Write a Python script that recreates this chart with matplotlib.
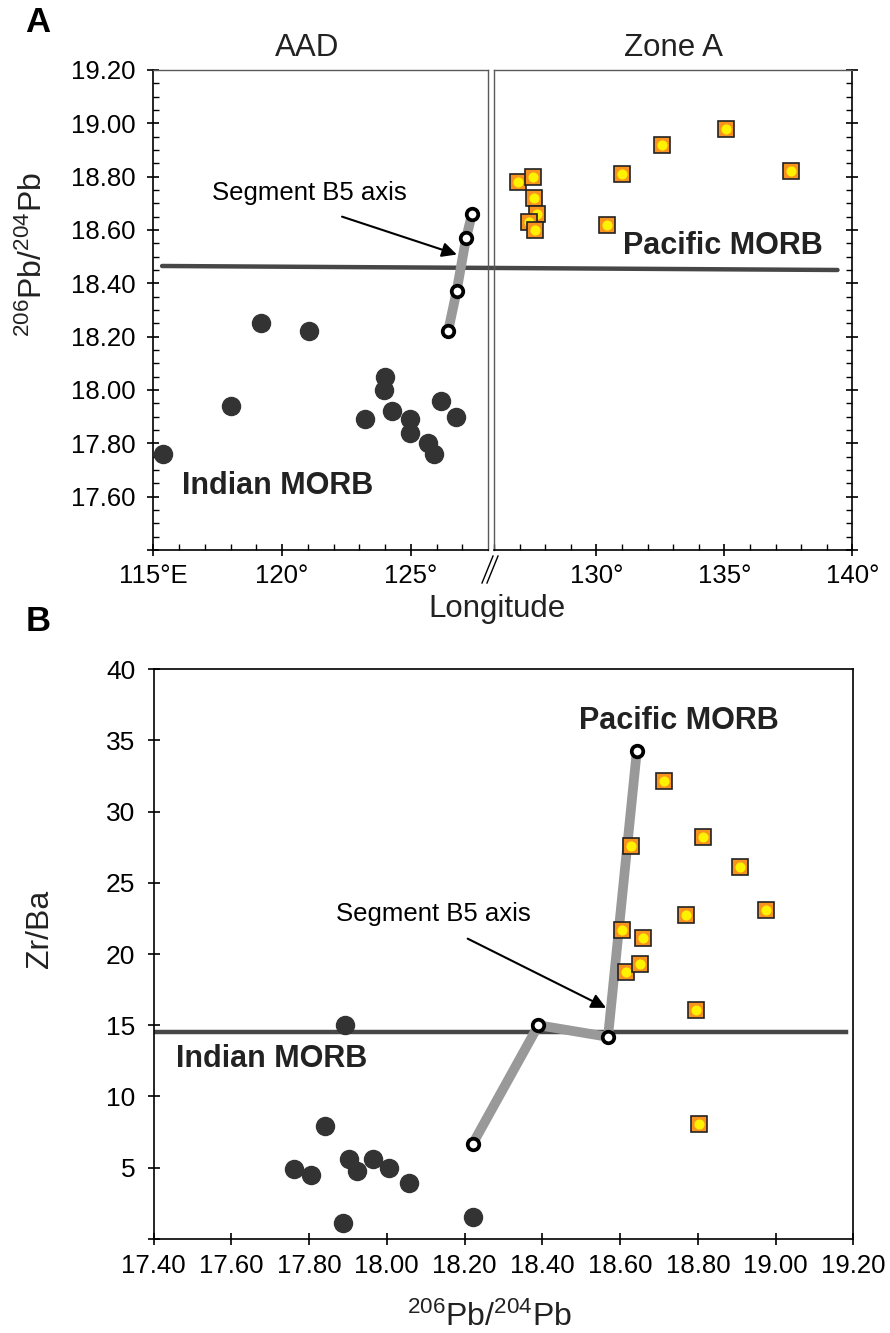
import matplotlib
matplotlib.use('Agg')
import matplotlib.pyplot as plt
from matplotlib.patches import ConnectionPatch
from matplotlib.lines import Line2D
import numpy as np

plt.rcParams['font.family'] = ['Liberation Sans', 'DejaVu Sans']
plt.rcParams['mathtext.fontset'] = 'custom'
plt.rcParams['mathtext.rm'] = 'Liberation Sans'
plt.rcParams['mathtext.it'] = 'Liberation Sans:italic'
plt.rcParams['mathtext.bf'] = 'Liberation Sans:bold'

# ---- Panel A data (longitude vs 206Pb/204Pb)
aad_lon = [115.39, 118.03, 119.19, 121.03, 123.22, 124.00, 123.96, 124.28,
           124.96, 124.96, 125.67, 125.90, 126.16, 126.74]
aad_pb = [17.76, 17.94, 18.25, 18.22, 17.89, 18.05, 18.00, 17.92,
          17.89, 17.84, 17.80, 17.76, 17.96, 17.90]

b5_lon = [126.45, 126.78, 127.15, 127.38]
b5_pb = [18.22, 18.37, 18.57, 18.66]

zone_lon = [126.93, 127.52, 127.55, 127.66, 127.38, 127.60, 130.42, 131.01,
            132.55, 135.08, 137.60]
zone_pb = [18.78, 18.80, 18.72, 18.66, 18.63, 18.60, 18.62, 18.81,
           18.92, 18.98, 18.82]

# Indian/Pacific boundary line in panel A
bound_lon = [115.34, 139.42]
bound_pb = [18.465, 18.45]

# ---- Panel B data (206Pb/204Pb vs Zr/Ba)
ind_pb = [17.893, 17.842, 17.762, 17.804, 17.902, 17.924, 17.964, 18.006,
          18.056, 17.887, 18.223]
ind_zrba = [15.0, 7.89, 4.93, 4.49, 5.61, 4.77, 5.59, 5.00, 3.94, 1.08, 1.51]

b5b_pb = [18.221, 18.390, 18.569, 18.643]
b5b_zrba = [6.67, 15.0, 14.18, 34.23]

pac_pb = [18.714, 18.629, 18.814, 18.909, 18.769, 18.975, 18.604, 18.660,
          18.614, 18.652, 18.795, 18.803]
pac_zrba = [32.18, 27.6, 28.2, 26.1, 22.77, 23.1, 21.69, 21.15,
            18.73, 19.27, 16.04, 8.08]

bound_b_pb = [17.405, 19.18]
bound_b_zrba = [14.5, 14.5]

# styles
DARK = '#333333'
LINE = '#474747'
PATH = '#999999'
ORANGE = '#F7931E'
YELLOW = '#FFF200'
FRAME = '#5a5a5a'


def indian(ax, x, y):
    ax.plot(x, y, 'o', ms=13, color=DARK, mec=DARK, zorder=3)


def pacific(ax, x, y):
    # one point at a time so overlapping squares stack properly
    for xi, yi in zip(x, y):
        ax.plot(xi, yi, 's', ms=11.2, mfc=ORANGE, mec='#222222', mew=1.2, zorder=5)
        ax.plot(xi, yi, 'o', ms=7.3, mfc=YELLOW, mec='none', zorder=5)


def segment(ax, x, y):
    ax.plot(x, y, '-', color=PATH, lw=7, solid_capstyle='butt', zorder=4)
    ax.plot(x, y, 'o', ms=8.3, mfc='white', mec='black', mew=2.7, zorder=6)


def style_ticks(ax, size):
    ax.tick_params(which='major', direction='inout', length=8, width=1.2,
                   labelsize=size, color='black')
    ax.tick_params(which='minor', direction='in', length=4, width=1.0,
                   color='black')


fig = plt.figure(figsize=(8.9, 13.33), dpi=100)
fig.patch.set_facecolor('white')

ax1 = fig.add_axes([0.1723, 0.5874, 0.3760, 0.3601])
ax2 = fig.add_axes([0.5551, 0.5874, 0.4026, 0.3601])
ax3 = fig.add_axes([0.1725, 0.0707, 0.7863, 0.4272])
for a in (ax1, ax2, ax3):
    a.set_facecolor('none')

# ---------------- Panel A ----------------
ax1.set_xlim(115, 128)
ax2.set_xlim(126, 140)
for a in (ax1, ax2):
    a.set_ylim(17.4, 19.2)

indian(ax1, aad_lon, aad_pb)
segment(ax1, b5_lon, b5_pb)
pacific(ax2, zone_lon, zone_pb)

con = ConnectionPatch(xyA=(bound_lon[0], bound_pb[0]), coordsA=ax1.transData,
                      xyB=(bound_lon[1], bound_pb[1]), coordsB=ax2.transData,
                      color=LINE, lw=3.2, zorder=-1)
fig.add_artist(con)

yt = np.arange(17.4, 19.21, 0.2)
ax1.set_yticks(yt)
ax1.set_yticklabels([''] + ['%.2f' % v for v in yt[1:]])
ax1.set_yticks(np.arange(17.4, 19.21, 0.05), minor=True)
ax1.set_xticks([115, 120, 125])
ax1.set_xticklabels(['115°E', '120°', '125°'])
ax1.set_xticks(np.arange(115, 128), minor=True)
style_ticks(ax1, 18.5)
ax1.tick_params(axis='y', pad=9)
ax1.tick_params(axis='x', pad=6)

ax2.set_yticks(yt)
ax2.set_yticks(np.arange(17.4, 19.21, 0.05), minor=True)
ax2.yaxis.tick_right()
ax2.tick_params(axis='y', which='both', labelright=False)
ax2.set_xticks([130, 135, 140])
ax2.set_xticklabels(['130°', '135°', '140°'])
ax2.set_xticks(np.arange(126, 141), minor=True)
style_ticks(ax2, 18.5)
ax2.tick_params(axis='x', pad=6)

for s in ('top', 'right'):
    ax1.spines[s].set_color(FRAME)
    ax1.spines[s].set_linewidth(1.0)
for s in ('top', 'left'):
    ax2.spines[s].set_color(FRAME)
    ax2.spines[s].set_linewidth(1.0)
ax1.spines['left'].set_linewidth(1.2)
ax1.spines['bottom'].set_linewidth(1.2)
ax2.spines['right'].set_linewidth(1.2)
ax2.spines['bottom'].set_linewidth(1.2)

ax1.text(116.1, 17.64, 'Indian MORB', fontsize=22, fontweight='bold',
         color='#222222', ha='left', va='center')
ax2.text(131.05, 18.54, 'Pacific MORB', fontsize=22, fontweight='bold',
         color='#222222', ha='left', va='center')
ax1.text(121.06, 18.74, 'Segment B5 axis', fontsize=18.5, ha='center', va='center')
ax1.annotate('', xy=(126.79, 18.508), xytext=(122.33, 18.65),
             arrowprops=dict(arrowstyle='-|>', color='black', lw=1.5,
                             mutation_scale=22, shrinkA=0, shrinkB=0))

fig.text(306.7 / 890, 1 - 48 / 1333, 'AAD', fontsize=22.5, ha='center', va='center',
         color='#222222')
fig.text(673 / 890, 1 - 48 / 1333, 'Zone A', fontsize=22.5, ha='center', va='center',
         color='#222222')
fig.text(497 / 890, 1 - 617 / 1333, 'Longitude', fontsize=22.5, ha='center',
         va='baseline', color='#222222')
fig.text(33 / 890, 1 - 255 / 1333, r'$^{206}\mathrm{Pb/}^{204}\mathrm{Pb}$',
         fontsize=23, rotation=90, ha='center', va='center', color='#222222')
fig.text(38 / 890, 1 - 22 / 1333, 'A', fontsize=25, fontweight='bold',
         ha='center', va='center')
fig.text(38 / 890, 1 - 622 / 1333, 'B', fontsize=25, fontweight='bold',
         ha='center', va='center')

# axis break marks
for dx in (0, 5):
    fig.add_artist(Line2D([(482 + dx) / 890, (493 + dx) / 890],
                          [1 - 583 / 1333, 1 - 556 / 1333],
                          transform=fig.transFigure, color='black', lw=1.0))

# ---------------- Panel B ----------------
ax3.set_xlim(17.4, 19.2)
ax3.set_ylim(0, 40)

ax3.plot(bound_b_pb, bound_b_zrba, '-', color=LINE, lw=3.2, zorder=2)
indian(ax3, ind_pb, ind_zrba)
segment(ax3, b5b_pb, b5b_zrba)
pacific(ax3, pac_pb, pac_zrba)

xt = np.arange(17.4, 19.21, 0.2)
ax3.set_xticks(xt)
ax3.set_xticklabels(['%.2f' % v for v in xt])
ax3.set_yticks(np.arange(0, 41, 5))
ax3.set_yticklabels([''] + [str(v) for v in range(5, 41, 5)])
style_ticks(ax3, 18.5)
ax3.tick_params(axis='y', labelsize=19, pad=9)
ax3.tick_params(axis='x', pad=7)
for s in ax3.spines.values():
    s.set_linewidth(1.2)

ax3.text(17.457, 12.63, 'Indian MORB', fontsize=22, fontweight='bold',
         color='#222222', ha='left', va='center')
ax3.text(18.75, 36.4, 'Pacific MORB', fontsize=22, fontweight='bold',
         color='#222222', ha='center', va='center')
ax3.text(18.12, 22.8, 'Segment B5 axis', fontsize=18.5, ha='center', va='center')
ax3.annotate('', xy=(18.564, 16.22), xytext=(18.208, 21.08),
             arrowprops=dict(arrowstyle='-|>', color='black', lw=1.5,
                             mutation_scale=22, shrinkA=0, shrinkB=0))

fig.text(40 / 890, 1 - 929 / 1333, 'Zr/Ba', fontsize=23, rotation=90,
         ha='center', va='center', color='#222222')
fig.text(489 / 890, 1 - 1326 / 1333, r'$^{206}\mathrm{Pb/}^{204}\mathrm{Pb}$',
         fontsize=23, ha='center', va='baseline', color='#222222')

fig.savefig('out.png', dpi=100)
